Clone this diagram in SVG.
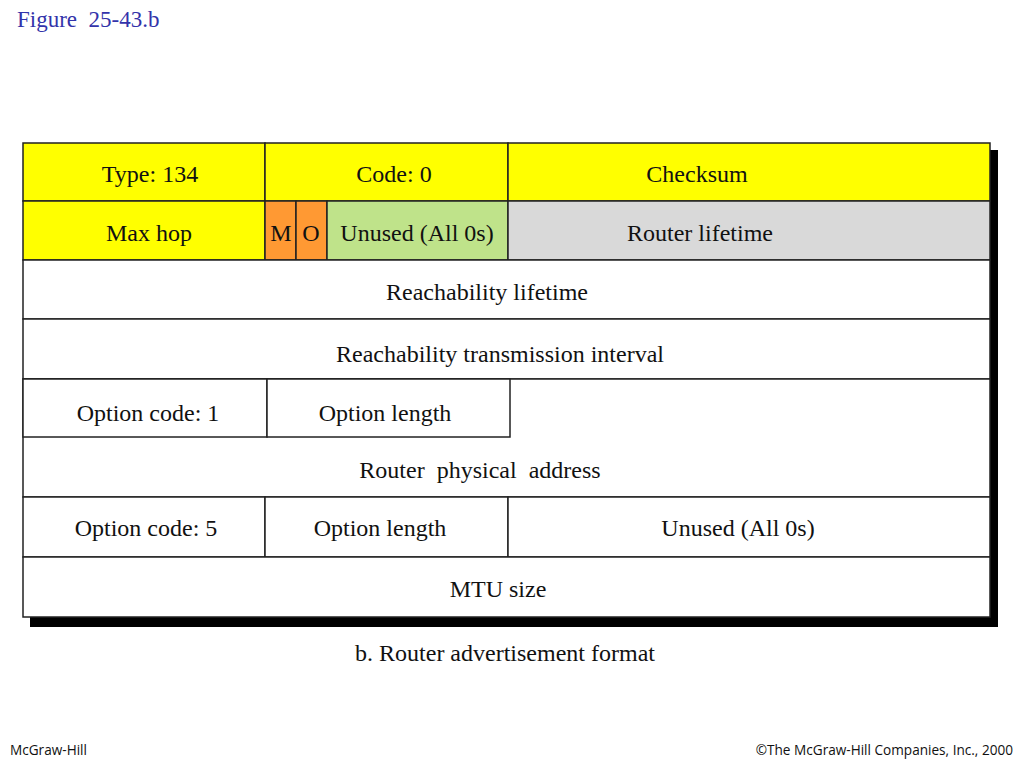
<svg xmlns="http://www.w3.org/2000/svg" width="1024" height="768" viewBox="0 0 1024 768">
<style>
.f{stroke:#222;stroke-width:1.5}
.t{font-family:"Liberation Serif","Times New Roman",serif;font-size:24px;fill:#111;text-anchor:middle}
.y{fill:#ffff00}.o{fill:#ff9933}.g{fill:#bfe38a}.gr{fill:#d9d9d9}.w{fill:#ffffff}
.ft{font-family:"Open Sans","Liberation Sans",sans-serif;font-size:13.6px;fill:#111}
</style>
<rect width="1024" height="768" fill="#ffffff"/>
<text x="17" y="27" font-family="Liberation Serif,serif" font-size="23" fill="#3333aa" xml:space="preserve">Figure  25-43.b</text>
<rect id="shadow" x="30" y="150" width="968" height="477" fill="#000"/>
<g id="type"><rect class="f y" x="23" y="143" width="242" height="58"/><text class="t" x="150" y="182">Type: 134</text></g>
<g id="code"><rect class="f y" x="265" y="143" width="243" height="58"/><text class="t" x="394" y="182">Code: 0</text></g>
<g id="checksum"><rect class="f y" x="508" y="143" width="482" height="58"/><text class="t" x="697" y="182">Checksum</text></g>
<g id="maxhop"><rect class="f y" x="23" y="201" width="242" height="59"/><text class="t" x="149" y="241">Max hop</text></g>
<g id="m"><rect class="f o" x="265" y="201" width="31" height="59"/><text class="t" x="281" y="241">M</text></g>
<g id="o"><rect class="f o" x="296" y="201" width="31" height="59"/><text class="t" x="311" y="241">O</text></g>
<g id="unused1"><rect class="f g" x="327" y="201" width="181" height="59"/><text class="t" x="417" y="241">Unused (All 0s)</text></g>
<g id="routerlifetime"><rect class="f gr" x="508" y="201" width="482" height="59"/><text class="t" x="700" y="241">Router lifetime</text></g>
<g id="reachlifetime"><rect class="f w" x="23" y="260" width="967" height="59"/><text class="t" x="487" y="300">Reachability lifetime</text></g>
<g id="reachinterval"><rect class="f w" x="23" y="319" width="967" height="60"/><text class="t" x="500" y="362">Reachability transmission interval</text></g>
<g id="physaddr"><rect class="f w" x="23" y="379" width="967" height="118"/><text class="t" x="480" y="478" xml:space="preserve">Router  physical  address</text></g>
<g id="optcode1"><rect class="f w" x="23" y="379" width="244" height="58"/><text class="t" x="148" y="421">Option code: 1</text></g>
<g id="optlen1"><rect class="f w" x="267" y="379" width="243" height="58"/><text class="t" x="385" y="421">Option length</text></g>
<g id="optcode5"><rect class="f w" x="23" y="497" width="242" height="60"/><text class="t" x="146" y="536">Option code: 5</text></g>
<g id="optlen5"><rect class="f w" x="265" y="497" width="243" height="60"/><text class="t" x="380" y="536">Option length</text></g>
<g id="unused2"><rect class="f w" x="508" y="497" width="482" height="60"/><text class="t" x="738" y="536">Unused (All 0s)</text></g>
<g id="mtu"><rect class="f w" x="23" y="557" width="967" height="60"/><text class="t" x="498" y="597">MTU size</text></g>
<g id="connectors"></g>
<text class="t" x="505" y="661">b. Router advertisement format</text>
<text class="ft" x="10" y="755">McGraw-Hill</text>
<text class="ft" x="1013" y="755" text-anchor="end">©The McGraw-Hill Companies, Inc., 2000</text>
</svg>
